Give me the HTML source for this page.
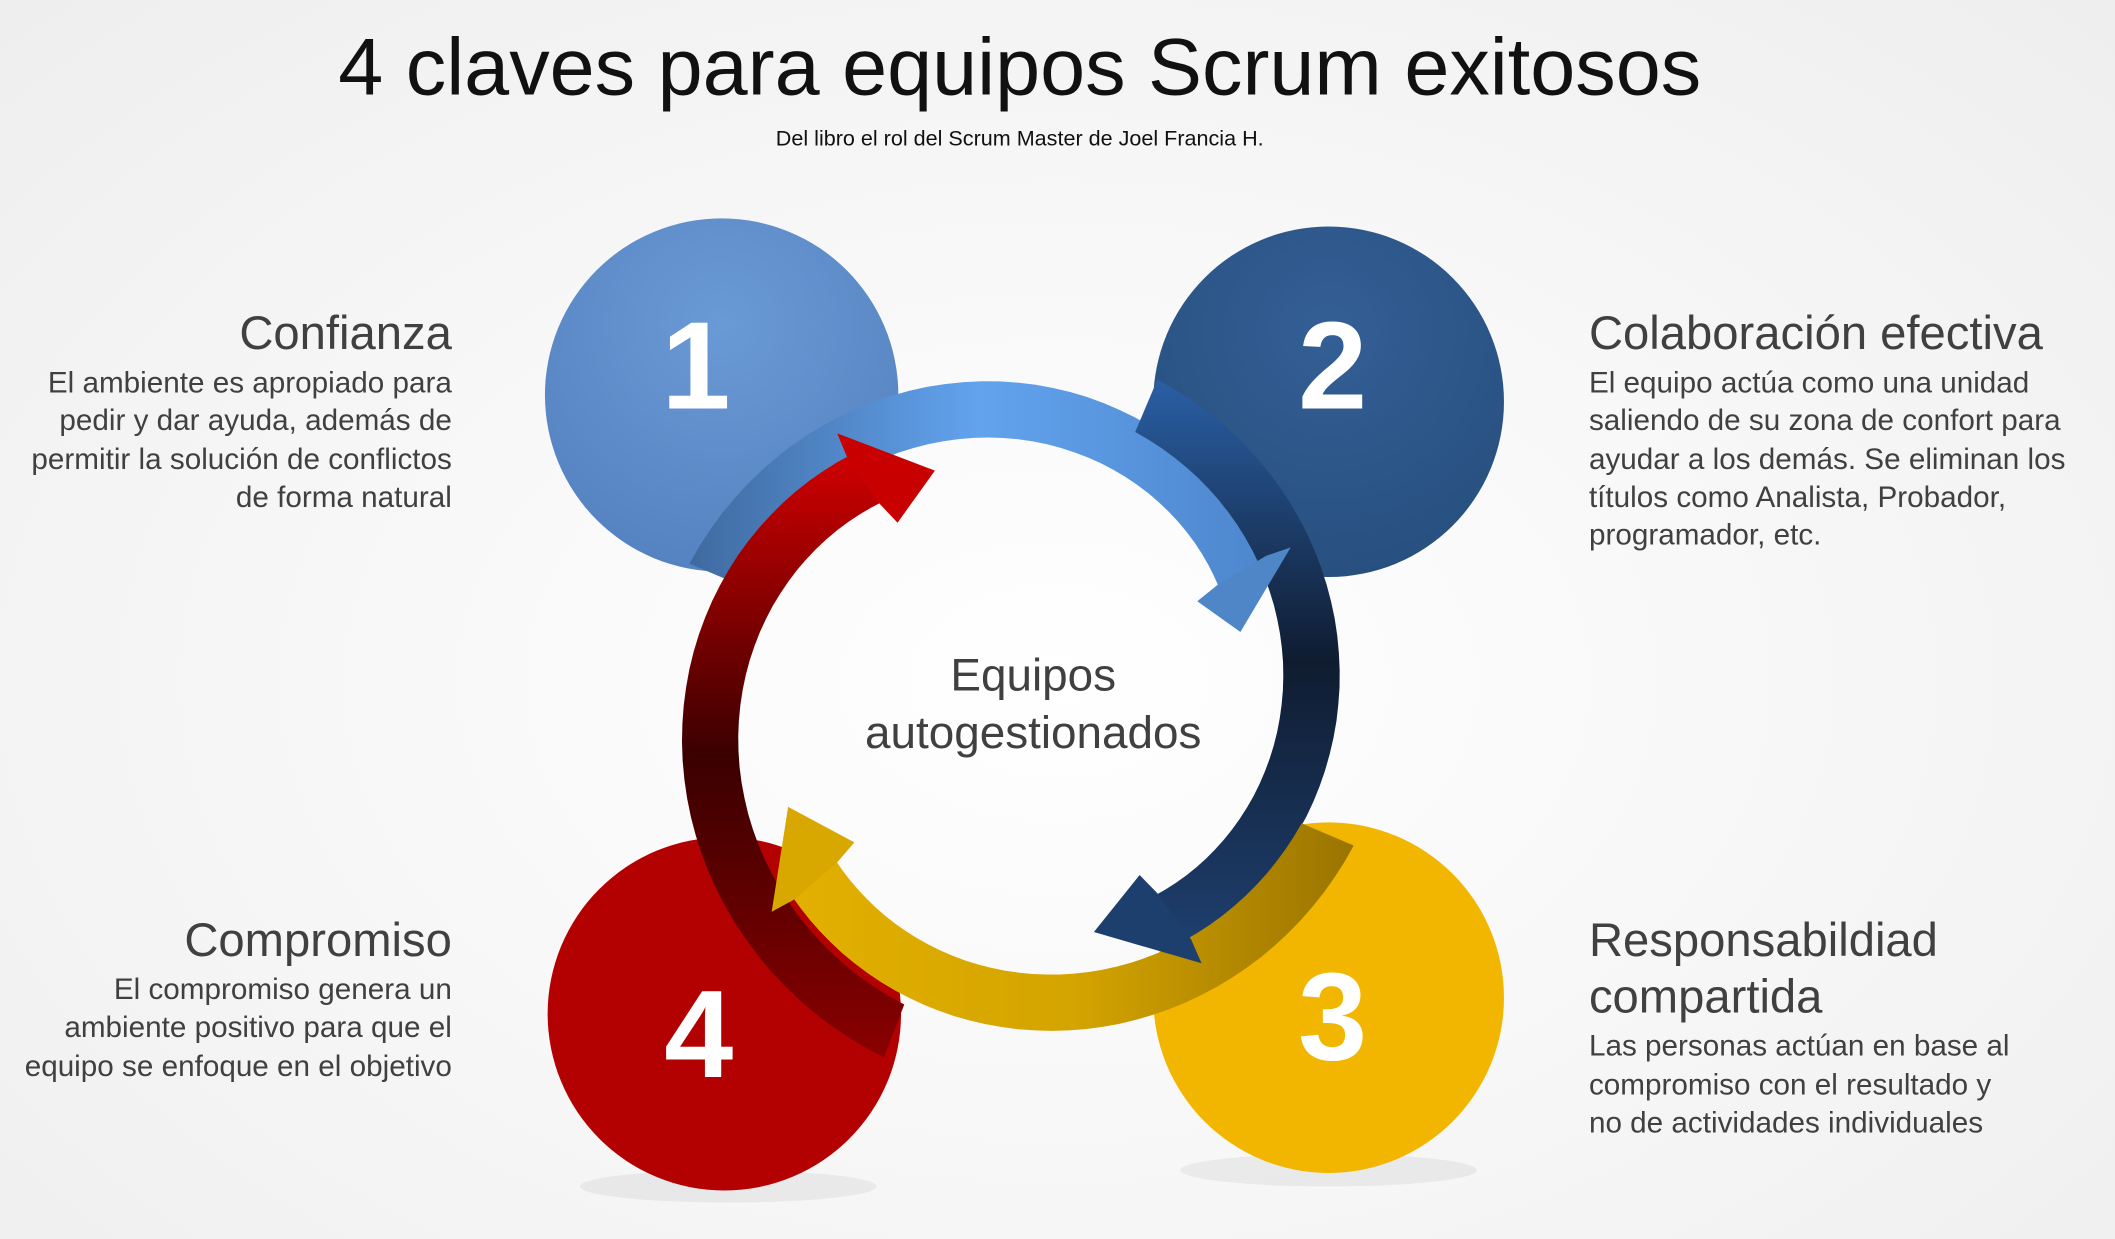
<!DOCTYPE html>
<html><head><meta charset="utf-8">
<style>
html,body{margin:0;padding:0;width:2115px;height:1239px;overflow:hidden;}
body{background:radial-gradient(ellipse at 50% 55%,#ffffff 0%,#f7f7f7 50%,#eeeeee 100%);}
svg{display:block}
.t{font-family:"Liberation Sans",sans-serif;fill:#404040}
</style></head>
<body>
<svg id="s" width="2115" height="1239" viewBox="0 0 1568 919" preserveAspectRatio="none">
<defs>
<linearGradient id="gb" x1="0" y1="0" x2="1" y2="0"><stop offset="0" stop-color="#3f6aa0"/><stop offset="0.5" stop-color="#62a3ee"/><stop offset="1" stop-color="#4d86cc"/></linearGradient>
<linearGradient id="gn" x1="0" y1="0" x2="0" y2="1"><stop offset="0" stop-color="#2a5fa5"/><stop offset="0.5" stop-color="#0f1c30"/><stop offset="1" stop-color="#1e3f6e"/></linearGradient>
<linearGradient id="gg" x1="1" y1="0" x2="0" y2="0"><stop offset="0" stop-color="#9a7400"/><stop offset="0.5" stop-color="#d4a400"/><stop offset="1" stop-color="#e2b000"/></linearGradient>
<linearGradient id="gr" x1="0" y1="1" x2="0" y2="0"><stop offset="0" stop-color="#8a0000"/><stop offset="0.5" stop-color="#3a0000"/><stop offset="1" stop-color="#d00000"/></linearGradient>
<radialGradient id="c1" cx="0.5" cy="0.3" r="0.7"><stop offset="0" stop-color="#6a9ad6"/><stop offset="1" stop-color="#5582c0"/></radialGradient>
<radialGradient id="c2" cx="0.5" cy="0.3" r="0.7"><stop offset="0" stop-color="#345f96"/><stop offset="1" stop-color="#27507f"/></radialGradient>
</defs>
<text class="t" x="756" y="70" text-anchor="middle" font-size="60" style="fill:#111">4 claves para equipos Scrum exitosos</text>
<text class="t" x="756" y="108" text-anchor="middle" font-size="16" style="fill:#111">Del libro el rol del Scrum Master de Joel Francia H.</text>

<ellipse cx="540" cy="880" rx="110" ry="12" fill="#000" opacity="0.05"/>
<ellipse cx="985" cy="868" rx="110" ry="12" fill="#000" opacity="0.05"/>
<circle cx="535" cy="293" r="131" fill="url(#c1)"/>
<circle cx="985" cy="298" r="130" fill="url(#c2)"/>
<circle cx="985" cy="740" r="130" fill="#f2b600"/>
<circle cx="537" cy="752" r="131" fill="#b30000"/>

<g id="bodies"></g>
<g id="heads"></g>

<text x="516" y="303" text-anchor="middle" font-family="Liberation Sans,sans-serif" font-weight="bold" font-size="92" fill="#fff">1</text>
<text x="988" y="303" text-anchor="middle" font-family="Liberation Sans,sans-serif" font-weight="bold" font-size="92" fill="#fff">2</text>
<text x="988" y="786" text-anchor="middle" font-family="Liberation Sans,sans-serif" font-weight="bold" font-size="92" fill="#fff">3</text>
<text x="518" y="799" text-anchor="middle" font-family="Liberation Sans,sans-serif" font-weight="bold" font-size="92" fill="#fff">4</text>

<text class="t" x="766" y="512" text-anchor="middle" font-size="34">Equipos</text>
<text class="t" x="766" y="555" text-anchor="middle" font-size="34">autogestionados</text>

<g class="t" text-anchor="end">
<text x="335" y="259" font-size="35">Confianza</text>
<text x="335" y="291" font-size="22">El ambiente es apropiado para</text>
<text x="335" y="319" font-size="22">pedir y dar ayuda, además de</text>
<text x="335" y="348" font-size="22">permitir la solución de conflictos</text>
<text x="335" y="376" font-size="22">de forma natural</text>
<text x="335" y="709" font-size="35">Compromiso</text>
<text x="335" y="741" font-size="22">El compromiso genera un</text>
<text x="335" y="769" font-size="22">ambiente positivo para  que el</text>
<text x="335" y="798" font-size="22">equipo se enfoque en el objetivo</text>
</g>
<g class="t">
<text x="1178" y="259" font-size="35">Colaboración efectiva</text>
<text x="1178" y="291" font-size="22">El equipo actúa como una unidad</text>
<text x="1178" y="319" font-size="22">saliendo de su zona de confort para</text>
<text x="1178" y="348" font-size="22">ayudar a los demás. Se eliminan los</text>
<text x="1178" y="376" font-size="22">títulos como Analista, Probador,</text>
<text x="1178" y="404" font-size="22">programador, etc.</text>
<text x="1178" y="709" font-size="35">Responsabildiad</text>
<text x="1178" y="751" font-size="35">compartida</text>
<text x="1178" y="783" font-size="22">Las personas actúan en base al</text>
<text x="1178" y="812" font-size="22">compromiso con el resultado y</text>
<text x="1178" y="840" font-size="22">no de actividades individuales</text>
</g>
</svg>
<script>
(function(){
var cx=756,cy=522,hw=21;
function p(r,a){a=a*Math.PI/180;return (cx+r*Math.cos(a)).toFixed(1)+' '+(cy+r*Math.sin(a)).toFixed(1);}
var NS='http://www.w3.org/2000/svg';
function add(g,d,fill){var e=document.createElementNS(NS,'path');e.setAttribute('d',d);e.setAttribute('fill',fill);document.getElementById(g).appendChild(e);}
function arrow(a0,a1,r0,r1,tipA,tipR,fill,hfill){
  var n=40,o=[],i=[];
  for(var k=0;k<=n;k++){var t=k/n,a=a0+(a1-a0)*t,r=r0+(r1-r0)*t;o.push(p(r+hw,a));i.push(p(r-hw,a));}
  add('bodies','M'+o.join(' L')+' L'+i.reverse().join(' L')+' Z',fill);
  add('heads','M'+p(r1+40,a1)+' L'+p(tipR,tipA)+' L'+p(r1-40,a1)+' L'+p(r1-hw,a1-1)+' L'+p(r1+hw,a1-1)+' Z',hfill);
}
arrow(-157,-30,245,192,-18,172,'url(#gb)','#4f86c8');
arrow(-67,55,240,195,72,178,'url(#gn)','#1d3f6e');
arrow(23,140,248,200,156,188,'url(#gg)','#d8a800');
arrow(111,236,260,202,250,184,'url(#gr)','#c80000');
})();
</script>
</body></html>
